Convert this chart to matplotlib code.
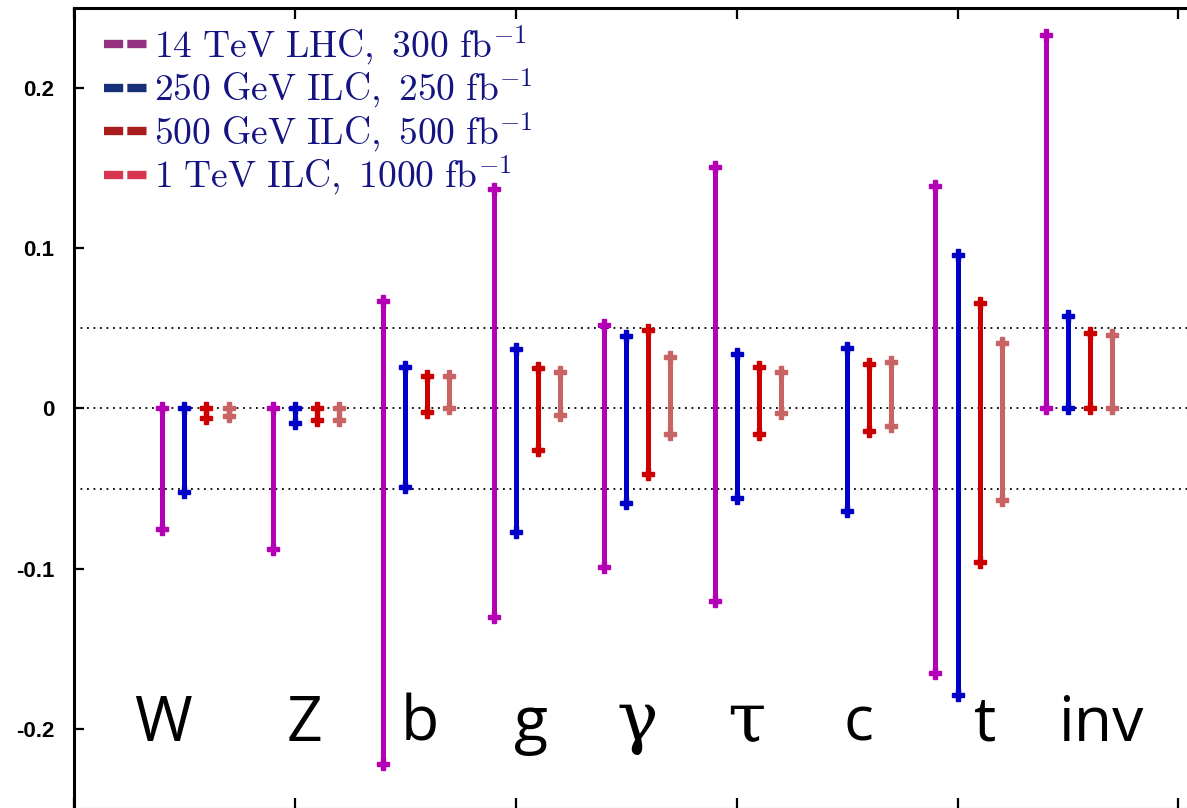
import matplotlib
matplotlib.use('Agg')
import matplotlib.pyplot as plt
from matplotlib.lines import Line2D
import numpy as np

plt.rcParams['mathtext.fontset'] = 'cm'

# Channels and coupling ranges (upper / lower end of each error bar)
channels = ['W', 'Z', 'b', 'g', 'γ', 'τ', 'c', 't', 'inv']
nan = np.nan
lhc_hi = [0.0, 0.0, 0.067, 0.137, 0.052, 0.151, nan, 0.139, 0.233]
lhc_lo = [-0.075, -0.088, -0.222, -0.130, -0.099, -0.120, nan, -0.165, 0.0]
ilc250_hi = [0.0, 0.0, 0.026, 0.037, 0.045, 0.034, 0.038, 0.096, 0.058]
ilc250_lo = [-0.052, -0.009, -0.049, -0.077, -0.059, -0.056, -0.064, -0.179, 0.0]
ilc500_hi = [0.0, 0.0, 0.020, 0.025, 0.049, 0.026, 0.028, 0.066, 0.047]
ilc500_lo = [-0.006, -0.007, -0.002, -0.026, -0.041, -0.016, -0.014, -0.096, 0.0]
ilc1000_hi = [0.0, 0.0, 0.020, 0.023, 0.032, 0.023, 0.029, 0.041, 0.046]
ilc1000_lo = [-0.005, -0.007, 0.0, -0.004, -0.016, -0.003, -0.011, -0.057, 0.0]

labels = [r'$\mathrm{14\ TeV\ LHC,\ 300\ fb}^{-1}$',
          r'$\mathrm{250\ GeV\ ILC,\ 250\ fb}^{-1}$',
          r'$\mathrm{500\ GeV\ ILC,\ 500\ fb}^{-1}$',
          r'$\mathrm{1\ TeV\ ILC,\ 1000\ fb}^{-1}$']
ytick_vals = [-0.2, -0.1, 0.0, 0.1, 0.2]
ytick_labels = ['-0.2', '-0.1', '0', '0.1', '0.2']

bar_colors = ['#b400b4', '#0000c8', '#cc0000', '#c86464']
legend_colors = ['#94307f', '#16307a', '#a81c1c', '#d8364e']

fig = plt.figure(figsize=(11.87, 8.08), dpi=100)
ax = fig.add_axes([0.0623, -0.0012, 0.977, 0.9913])

for y in [-0.05, 0.0, 0.05]:
    ax.axhline(y, color='k', lw=1.3, ls=(0, (1, 2.6)), zorder=1)

series = [(lhc_lo, lhc_hi), (ilc250_lo, ilc250_hi),
          (ilc500_lo, ilc500_hi), (ilc1000_lo, ilc1000_hi)]
offsets = [0.8, 1.0, 1.2, 1.4]
for (lo, hi), off, col in zip(series, offsets, bar_colors):
    for k in range(len(channels)):
        if np.isnan(lo[k]):
            continue
        x = k + off
        ax.plot([x, x], [lo[k], hi[k]], color=col, lw=3.6,
                marker='P', ms=9, mec=col, mew=1.0, zorder=3,
                solid_capstyle='butt')

# channel names
label_x = [0.81, 2.09, 3.13, 4.14, 5.10, 6.09, 7.10, 8.25, 9.30]
for name, lx in zip(channels, label_x):
    if name in ('γ', 'τ'):
        ax.text(lx, -0.2075, name, ha='center', va='baseline',
                fontsize=50, family='DejaVu Serif', zorder=4)
    else:
        ax.text(lx, -0.2075, name, ha='center', va='baseline',
                fontsize=45, family='Open Sans', zorder=4)

handles = [Line2D([], [], color=c, lw=6, dashes=(2.3, 0.5)) for c in legend_colors]
leg = ax.legend(handles, labels, loc='upper left', bbox_to_anchor=(0.026, 0.981),
                frameon=False, fontsize=27, handlelength=1.15, handletextpad=0.19,
                labelspacing=0.0, borderpad=0, borderaxespad=0,
                labelcolor='#141482')

ax.set_xlim(0, 10.5)
ax.set_ylim(-0.25, 0.25)
ax.set_xticks([0, 2, 4, 6, 8, 10])
ax.set_xticklabels([])
ax.set_yticks(ytick_vals)
ax.set_yticklabels(ytick_labels, fontsize=16, fontweight='bold',
                   family='Liberation Sans')
ax.tick_params(direction='in', length=7.5, width=1.6, top=True, right=True, pad=14)
ax.tick_params(axis='x', length=8)
for s in ax.spines.values():
    s.set_linewidth(2.2)

plt.savefig('out.png', dpi=100)
